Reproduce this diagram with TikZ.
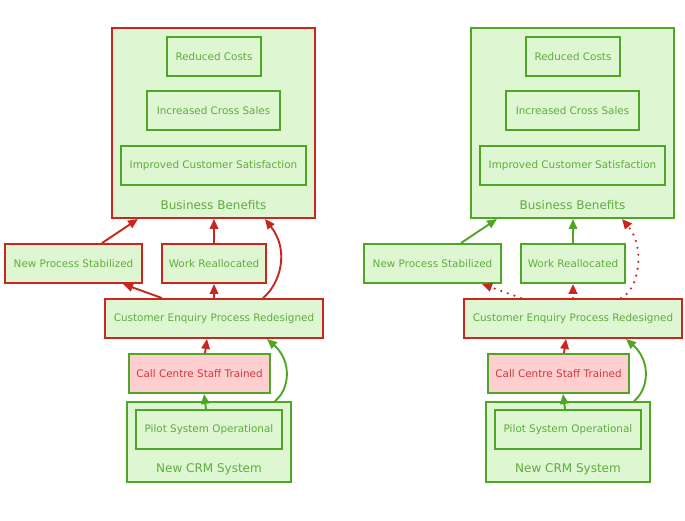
\documentclass[tikz,border=0pt]{standalone}
\usepackage{fontspec}
\setmainfont{DejaVu Sans}
\usetikzlibrary{arrows.meta}
\definecolor{gborder}{HTML}{4EA526}
\definecolor{rborder}{HTML}{C9261F}
\definecolor{gfill}{HTML}{DFF6D3}
\definecolor{pfill}{HTML}{FFCFD0}
\definecolor{gtext}{HTML}{5DAE3B}
\definecolor{rtext}{HTML}{D2363A}
\tikzset{
  box/.style={rectangle, line width=1.9pt, fill=gfill, text=gtext, minimum height=39pt, inner sep=0pt, font=\fontsize{10.4}{12}\selectfont},
  gbox/.style={box, draw=gborder},
  rbox/.style={box, draw=rborder},
  pbox/.style={box, draw=gborder, fill=pfill, text=rtext},
  cluster/.style={rectangle, line width=1.9pt, fill=gfill, inner sep=0pt},
  clabel/.style={text=gtext, font=\fontsize{12}{14}\selectfont, inner sep=0pt},
  tip/.style={-{Triangle[length=10pt,width=8.5pt]}},
  redge/.style={tip, draw=rborder, line width=1.9pt},
  gedge/.style={tip, draw=gborder, line width=1.9pt},
  dedge/.style={redge, dash pattern=on 0pt off 7pt, line cap=round, line width=2.4pt},
}
\begin{document}
\begin{tikzpicture}[x=1pt,y=-1pt]
\useasboundingbox (0,0) rectangle (685,520);
% ---------- left diagram ----------
\node[cluster, draw=rborder, minimum width=203pt, minimum height=190pt] (BBa) at (213.5,123) {};
\node[gbox, minimum width=94pt] (RCa) at (214,56.5) {Reduced Costs};
\node[gbox, minimum width=133pt] (ICSa) at (213.5,110.5) {Increased Cross Sales};
\node[gbox, minimum width=185pt] (ICSta) at (213.5,165.5) {Improved Customer Satisfaction};
\node[clabel] (BBla) at (213.5,205) {Business Benefits};
\node[rbox, minimum width=137pt] (NPSa) at (73.5,263.5) {New Process Stabilized};
\node[rbox, minimum width=104pt] (WRa) at (214,263.5) {Work Reallocated};
\node[rbox, minimum width=218pt] (CEPRa) at (214,318.5) {Customer Enquiry Process Redesigned};
\node[pbox, minimum width=141pt] (CCSTa) at (199.5,373.5) {Call Centre Staff Trained};
\node[cluster, draw=gborder, minimum width=164pt, minimum height=80pt] (CRMa) at (209,442) {};
\node[gbox, minimum width=146pt] (PSOa) at (209,429.5) {Pilot System Operational};
\node[clabel] (CRMla) at (209,469) {New CRM System};

\draw[redge] ([xshift=28.5pt]NPSa.north) -- ([xshift=-75.5pt]BBa.south);
\draw[redge] (WRa.north) -- (WRa.north |- BBa.south);
\draw[redge] ([xshift=49pt]CEPRa.north) .. controls +(17,-14) and +(25,32) .. ([xshift=51.5pt]BBa.south);
\draw[redge] ([xshift=-52pt]CEPRa.north) -- ([xshift=49.5pt]NPSa.south);
\draw[redge] (CEPRa.north) -- (WRa.south);
\draw[redge] ([xshift=5.5pt]CCSTa.north) -- ([xshift=-7pt]CEPRa.south);
\draw[gedge] ([xshift=-3pt]PSOa.north) -- ([xshift=4.5pt]CCSTa.south);
\draw[gedge] ([xshift=66pt]CRMa.north) .. controls +(15,-12) and +(25,22) .. ([xshift=53pt]CEPRa.south);

% ---------- right diagram ----------
\node[cluster, draw=gborder, minimum width=203pt, minimum height=190pt] (BBb) at (572.5,123) {};
\node[gbox, minimum width=94pt] (RCb) at (573,56.5) {Reduced Costs};
\node[gbox, minimum width=133pt] (ICSb) at (572.5,110.5) {Increased Cross Sales};
\node[gbox, minimum width=185pt] (ICStb) at (572.5,165.5) {Improved Customer Satisfaction};
\node[clabel] (BBlb) at (572.5,205) {Business Benefits};
\node[gbox, minimum width=137pt] (NPSb) at (432.5,263.5) {New Process Stabilized};
\node[gbox, minimum width=104pt] (WRb) at (573,263.5) {Work Reallocated};
\node[rbox, minimum width=218pt] (CEPRb) at (573,318.5) {Customer Enquiry Process Redesigned};
\node[pbox, minimum width=141pt] (CCSTb) at (558.5,373.5) {Call Centre Staff Trained};
\node[cluster, draw=gborder, minimum width=164pt, minimum height=80pt] (CRMb) at (568,442) {};
\node[gbox, minimum width=146pt] (PSOb) at (568,429.5) {Pilot System Operational};
\node[clabel] (CRMlb) at (568,469) {New CRM System};

\draw[gedge] ([xshift=28.5pt]NPSb.north) -- ([xshift=-75.5pt]BBb.south);
\draw[gedge] (WRb.north) -- (WRb.north |- BBb.south);
\draw[dedge] ([xshift=48pt]CEPRb.north) .. controls +(19,-9) and +(23,27) .. ([xshift=49.5pt]BBb.south);
\draw[dedge] ([xshift=-52pt]CEPRb.north) -- ([xshift=49.5pt]NPSb.south);
\draw[dedge] (CEPRb.north) -- (WRb.south);
\draw[redge] ([xshift=5.5pt]CCSTb.north) -- ([xshift=-7pt]CEPRb.south);
\draw[gedge] ([xshift=-3pt]PSOb.north) -- ([xshift=4.5pt]CCSTb.south);
\draw[gedge] ([xshift=66pt]CRMb.north) .. controls +(15,-12) and +(25,22) .. ([xshift=53pt]CEPRb.south);
\end{tikzpicture}
\end{document}
